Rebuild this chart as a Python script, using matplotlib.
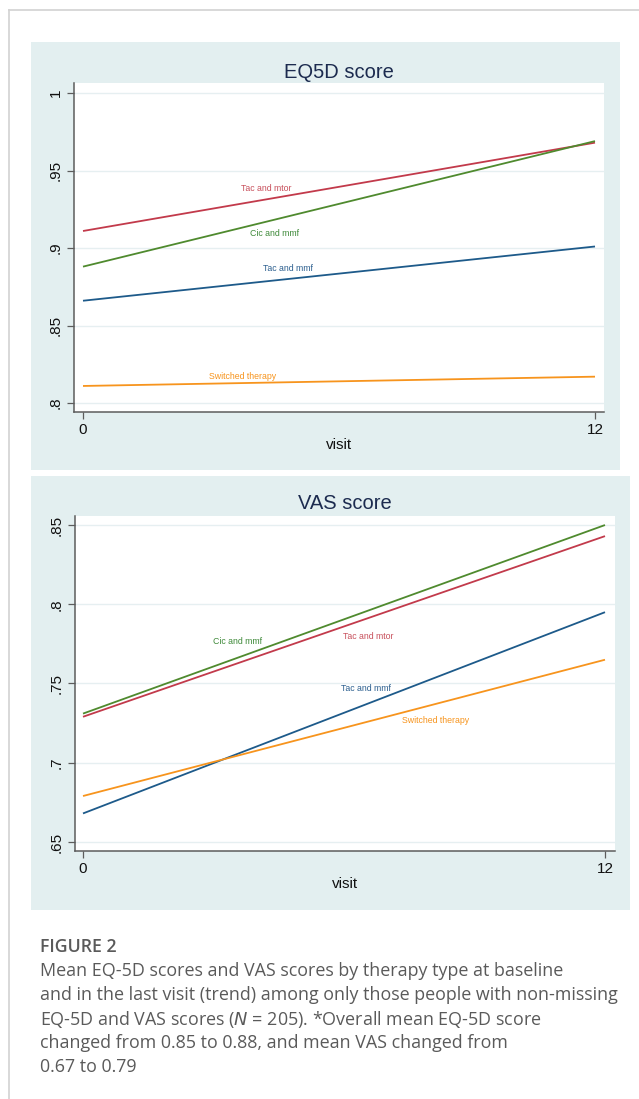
import matplotlib
matplotlib.use("Agg")
import matplotlib.pyplot as plt
from matplotlib.patches import Rectangle
from matplotlib.lines import Line2D

W, H = 639, 1099

# visit positions
visits = [0, 12]

# therapy groups
therapies = ["Tac and mtor", "Cic and mmf", "Tac and mmf", "Switched therapy"]
line_colors = ["#c23a4b", "#4f8a2e", "#1d5a8a", "#f7941d"]
label_colors = ["#c8505c", "#3f8a3a", "#2c5f8f", "#f7941d"]

# mean EQ-5D score at baseline and visit 12
eq5d_start = [0.911, 0.888, 0.866, 0.811]
eq5d_end = [0.968, 0.969, 0.901, 0.817]
eq5d_label_x = [4.3, 4.5, 4.8, 3.75]
eq5d_label_y = [0.9387, 0.9097, 0.8870, 0.8168]
eq5d_ticks = [0.8, 0.85, 0.9, 0.95, 1.0]
eq5d_ticklabels = [".8", ".85", ".9", ".95", "1"]

# mean VAS score at baseline and visit 12
vas_start = [0.729, 0.731, 0.668, 0.679]
vas_end = [0.843, 0.850, 0.795, 0.765]
vas_label_x = [6.55, 3.55, 6.5, 8.1]
vas_label_y = [0.7797, 0.7766, 0.7468, 0.7266]
vas_ticks = [0.65, 0.7, 0.75, 0.8, 0.85]
vas_ticklabels = [".65", ".7", ".75", ".8", ".85"]

xticks = [0, 12]

caption_head = "FIGURE 2"
caption_lines = [
    "Mean EQ-5D scores and VAS scores by therapy type at baseline",
    "and in the last visit (trend) among only those people with non-missing",
    r"EQ-5D and VAS scores ($\mathit{N}$ = 205). *Overall mean EQ-5D score",
    "changed from 0.85 to 0.88, and mean VAS changed from",
    "0.67 to 0.79",
]

fig = plt.figure(figsize=(W / 100, H / 100), dpi=100)
fig.patch.set_facecolor("white")


def px_rect(x0, y0, x1, y1):
    return [x0 / W, 1 - y1 / H, (x1 - x0) / W, (y1 - y0) / H]


# outer page frame
fig.add_artist(Line2D([9 / W, 1], [1 - 10 / H, 1 - 10 / H], color="#d2d2d2", lw=1.2))
fig.add_artist(Line2D([9 / W, 9 / W], [0, 1 - 10 / H], color="#d2d2d2", lw=1.2))

BG = "#e3eff0"
GRID = "#e6eff1"
AX = "#5c5c5c"


def panel(bg_box, ax_box, title, title_y, starts, ends, lab_x, lab_y,
          yticks, yticklabels, xlim, ylim, visit_y):
    x0, y0, x1, y1 = bg_box
    fig.add_artist(Rectangle((x0 / W, 1 - y1 / H), (x1 - x0) / W, (y1 - y0) / H,
                             transform=fig.transFigure, facecolor=BG,
                             edgecolor="none", zorder=0))
    fig.text(((ax_box[0] + ax_box[2]) / 2) / W, 1 - title_y / H, title,
             ha="center", va="center", fontsize=14.5, color="#1c2b4f",
             family="Liberation Sans")
    ax = fig.add_axes(px_rect(*ax_box))
    ax.set_facecolor("white")
    for t, s, e, c in zip(therapies, starts, ends, line_colors):
        ax.plot(visits, [s, e], color=c, lw=1.3, solid_capstyle="butt", zorder=3)
    for t, lx, ly, c in zip(therapies, lab_x, lab_y, label_colors):
        ax.text(lx, ly, t, color=c, fontsize=6.3, ha="center", va="center",
                family="Liberation Sans", zorder=4)
    ax.set_xlim(*xlim)
    ax.set_ylim(*ylim)
    ax.set_yticks(yticks)
    ax.set_yticklabels(yticklabels, rotation=90, va="center",
                       family="Liberation Sans", fontsize=11)
    ax.set_xticks(xticks)
    ax.set_xticklabels([str(v) for v in xticks], family="Liberation Sans",
                       fontsize=11)
    for yv in yticks:
        ax.axhline(yv, color=GRID, lw=1.0, zorder=1)
    for side in ("top", "right"):
        ax.spines[side].set_visible(False)
    for side in ("left", "bottom"):
        ax.spines[side].set_color(AX)
        ax.spines[side].set_linewidth(1.1)
    ax.tick_params(axis="both", direction="out", length=5, width=0.9,
                   color=AX, labelcolor="#111111", pad=3)
    fig.text(((ax_box[0] + ax_box[2]) / 2) / W, 1 - visit_y / H, "visit",
             ha="center", va="center", fontsize=11, color="#111111",
             family="Liberation Sans")
    return ax


# EQ5D panel
panel((31, 42, 620, 470), (74, 83, 604, 412), "EQ5D score", 72,
      eq5d_start, eq5d_end, eq5d_label_x, eq5d_label_y,
      eq5d_ticks, eq5d_ticklabels,
      (-0.211, 12.211), (0.7942, 1.0065), 445)

# VAS panel
panel((31, 476, 630, 910), (75, 516, 615, 851), "VAS score", 503,
      vas_start, vas_end, vas_label_x, vas_label_y,
      vas_ticks, vas_ticklabels,
      (-0.184, 12.23), (0.6443, 0.8557), 884)

# caption
fig.text(40 / W, 1 - 947 / H, caption_head, ha="left", va="center",
         fontsize=12.8, fontweight="semibold", color="#5a5a5a", family="Open Sans")
for i, line in enumerate(caption_lines):
    fig.text(40 / W, 1 - (971 + 24 * i) / H, line, ha="left", va="center",
             fontsize=12.9, color="#5a5a5a", family="Open Sans")

fig.savefig("out.png", dpi=100)
